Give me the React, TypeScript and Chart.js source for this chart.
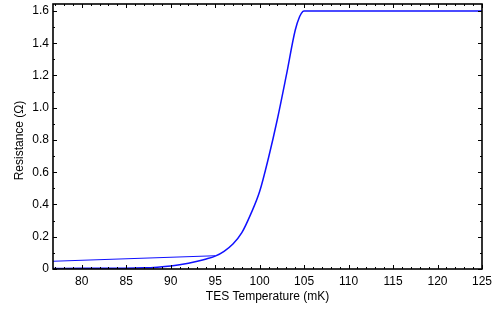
import React, { useEffect, useRef } from "react";
import { Chart, registerables } from "chart.js";

Chart.register(...registerables);

const curveTemp = [76.77, 80, 84, 87, 88.5, 90, 91, 92, 93, 94, 95, 96, 97, 98, 99, 100, 101, 102, 103, 104, 104.5, 104.85, 105.0, 125];
const curveRes = [0.003, 0.004, 0.005, 0.007, 0.011, 0.018, 0.026, 0.036, 0.048, 0.062, 0.08, 0.11, 0.155, 0.225, 0.34, 0.48, 0.69, 0.93, 1.2, 1.48, 1.565, 1.597, 1.6, 1.6];
const segTemp = [76.77, 95];
const segRes = [0.048, 0.082];
const xTickValues = [80, 85, 90, 95, 100, 105, 110, 115, 120, 125];
const yTickValues = [0, 0.2, 0.4, 0.6, 0.8, 1.0, 1.2, 1.4, 1.6];
const xTitle = "TES Temperature (mK)";
const yTitle = "Resistance (Ω)";

const FONT = "'Liberation Sans', Arial, sans-serif";

const framePlugin = {
  id: "frame",
  afterDatasetsDraw(chart: any) {
    const { ctx, chartArea: a, scales } = chart;
    const xs = scales.x;
    const ys = scales.y;
    ctx.save();
    ctx.strokeStyle = "#000";
    ctx.lineWidth = 1;
    for (let v = 77; v <= 125; v += 1) {
      const px = Math.round(xs.getPixelForValue(v)) + 0.5;
      const len = v % 5 === 0 ? 4 : 2;
      ctx.beginPath();
      ctx.moveTo(px, a.bottom);
      ctx.lineTo(px, a.bottom - len);
      ctx.moveTo(px, a.top);
      ctx.lineTo(px, a.top + len);
      ctx.stroke();
    }
    for (let i = 0; i <= 16; i++) {
      const v = i / 10;
      const py = Math.round(ys.getPixelForValue(v)) + 0.5;
      const len = i % 2 === 0 ? 4 : 2;
      ctx.beginPath();
      ctx.moveTo(a.left, py);
      ctx.lineTo(a.left + len, py);
      ctx.moveTo(a.right, py);
      ctx.lineTo(a.right - len, py);
      ctx.stroke();
    }
    ctx.lineWidth = 1.6;
    ctx.strokeRect(a.left, a.top, a.right - a.left, a.bottom - a.top);
    ctx.fillStyle = "#000";
    ctx.font = `12px ${FONT}`;
    ctx.textAlign = "center";
    ctx.textBaseline = "middle";
    ctx.fillText(xTitle, (a.left + a.right) / 2, 297);
    ctx.translate(20, (a.top + a.bottom) / 2 + 4);
    ctx.rotate(-Math.PI / 2);
    ctx.fillText(yTitle, 0, 0);
    ctx.restore();
  },
};

export default function App() {
  const ref = useRef<HTMLCanvasElement>(null);
  useEffect(() => {
    document.body.style.margin = "0";
    const curve = curveTemp.map((t, i) => ({ x: t, y: curveRes[i] }));
    const seg = segTemp.map((t, i) => ({ x: t, y: segRes[i] }));
    const chart = new Chart(ref.current!, {
      type: "line",
      data: {
        datasets: [
          {
            data: curve,
            borderColor: "#1010ff",
            borderWidth: 1.5,
            pointRadius: 0,
            cubicInterpolationMode: "monotone",
            fill: false,
          },
          {
            data: seg,
            borderColor: "#1010ff",
            borderWidth: 1.2,
            pointRadius: 0,
            fill: false,
          },
        ],
      },
      options: {
        animation: false,
        responsive: false,
        maintainAspectRatio: false,
        layout: { padding: { top: 4, right: 18, left: 0, bottom: 0 } },
        plugins: { legend: { display: false }, tooltip: { enabled: false } },
        scales: {
          x: {
            type: "linear",
            min: 76.77,
            max: 125,
            grid: { display: false, drawTicks: false },
            border: { display: false },
            afterBuildTicks: (s: any) => {
              s.ticks = xTickValues.map((v) => ({ value: v }));
            },
            afterFit: (s: any) => {
              s.height = 41;
              s.paddingLeft = 0;
              s.paddingRight = 0;
              s.paddingTop = 0;
              s.paddingBottom = 0;
            },
            ticks: {
              padding: 5,
              color: "#000",
              font: { family: FONT, size: 12 },
              maxRotation: 0,
              callback: (v: any) => String(v),
            },
          },
          y: {
            type: "linear",
            min: 0,
            max: 1.643,
            grid: { display: false, drawTicks: false },
            border: { display: false },
            afterBuildTicks: (s: any) => {
              s.ticks = yTickValues.map((v) => ({ value: v }));
            },
            afterFit: (s: any) => {
              s.width = 53;
              s.paddingLeft = 0;
              s.paddingRight = 0;
              s.paddingTop = 0;
              s.paddingBottom = 0;
            },
            ticks: {
              padding: 4,
              color: "#000",
              font: { family: FONT, size: 12 },
              callback: (v: any) => (v === 0 ? "0" : Number(v).toFixed(1)),
            },
          },
        },
      },
      plugins: [framePlugin],
    });
    return () => chart.destroy();
  }, []);
  return (
    <div style={{ position: "absolute", left: 0, top: 0, width: 500, height: 310 }}>
      <canvas ref={ref} width={500} height={310} style={{ width: 500, height: 310 }} />
    </div>
  );
}
